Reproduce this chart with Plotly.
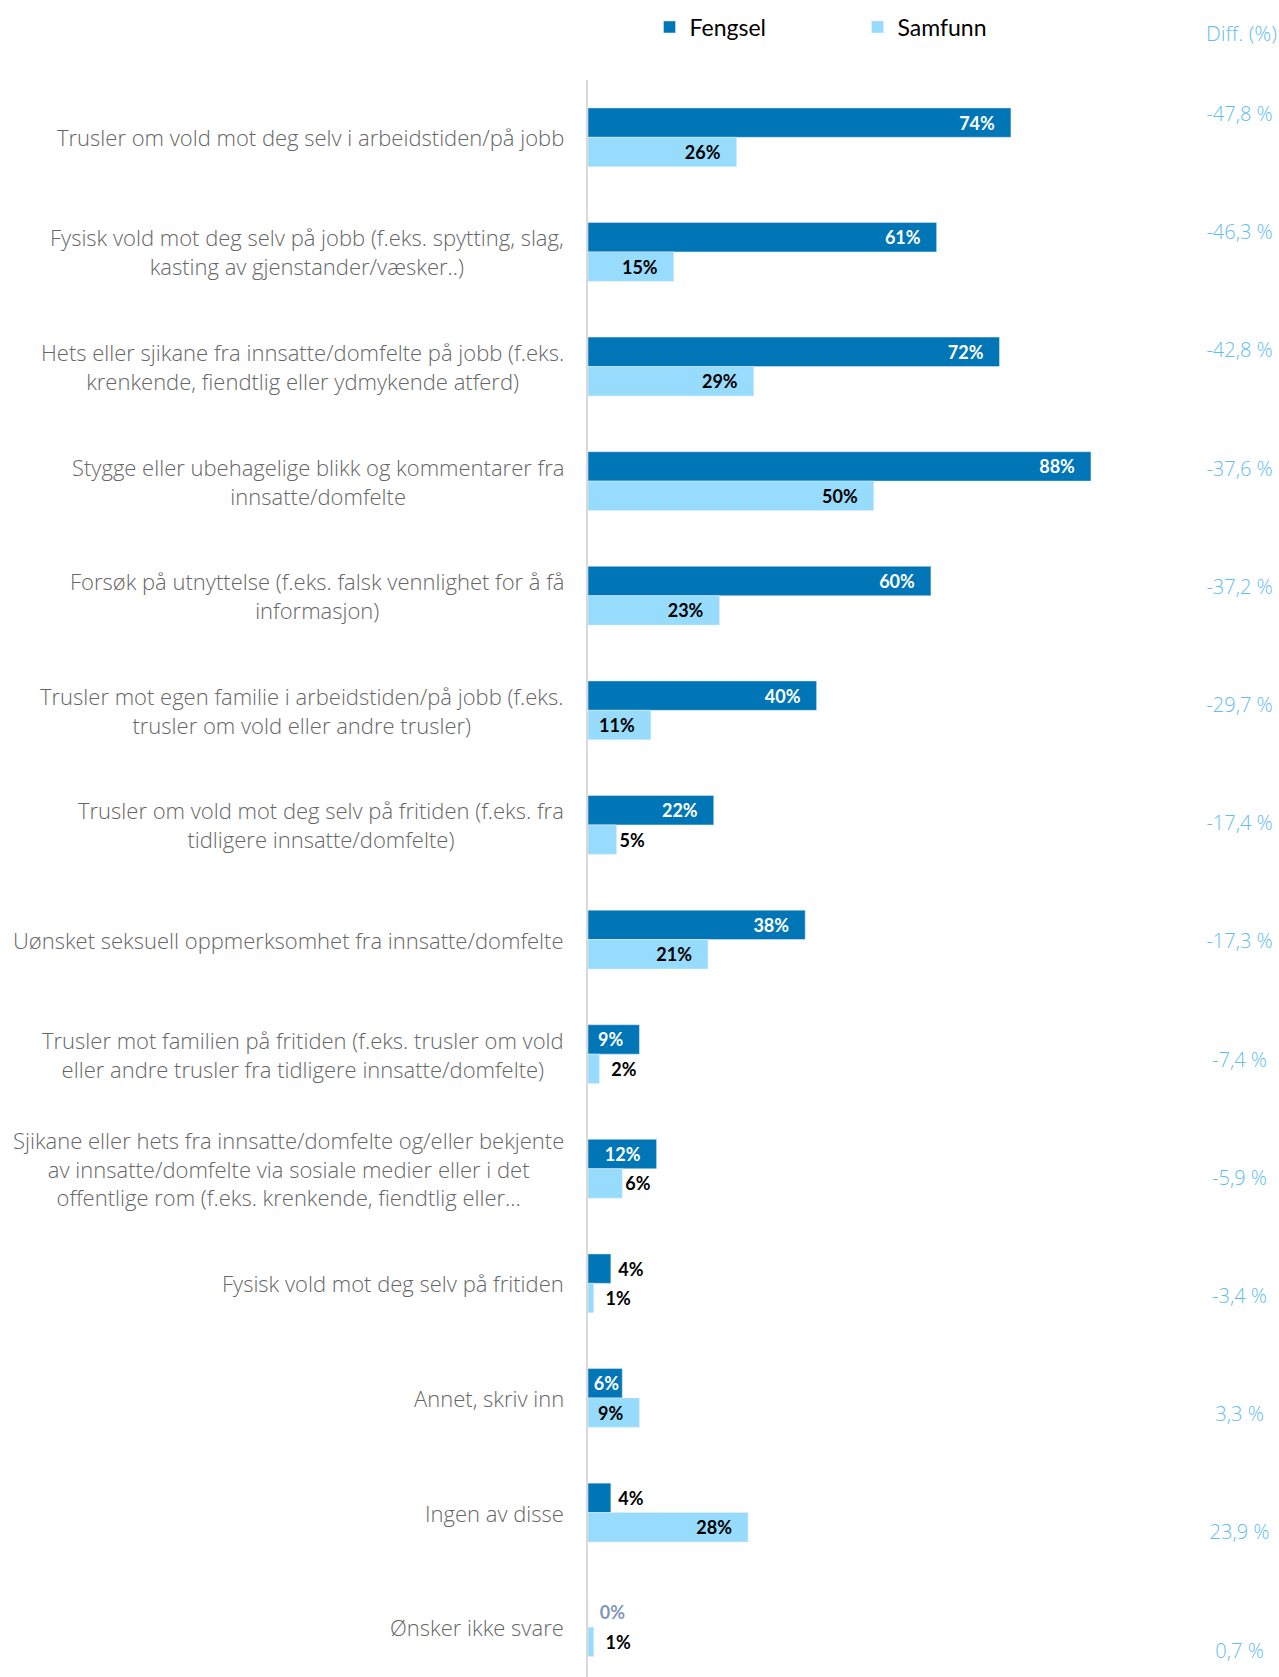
import plotly.graph_objects as go

categories = [
    "Trusler om vold mot deg selv i arbeidstiden/på jobb",
    "Fysisk vold mot deg selv på jobb (f.eks. spytting, slag,<br>kasting av gjenstander/væsker..)",
    "Hets eller sjikane fra innsatte/domfelte på jobb (f.eks.<br>krenkende, fiendtlig eller ydmykende atferd)",
    "Stygge eller ubehagelige blikk og kommentarer fra<br>innsatte/domfelte",
    "Forsøk på utnyttelse (f.eks. falsk vennlighet for å få<br>informasjon)",
    "Trusler mot egen familie i arbeidstiden/på jobb (f.eks.<br>trusler om vold eller andre trusler)",
    "Trusler om vold mot deg selv på fritiden (f.eks. fra<br>tidligere innsatte/domfelte)",
    "Uønsket seksuell oppmerksomhet fra innsatte/domfelte",
    "Trusler mot familien på fritiden (f.eks. trusler om vold<br>eller andre trusler fra tidligere innsatte/domfelte)",
    "Sjikane eller hets fra innsatte/domfelte og/eller bekjente<br>av innsatte/domfelte via sosiale medier eller i det<br>offentlige rom (f.eks. krenkende, fiendtlig eller…",
    "Fysisk vold mot deg selv på fritiden",
    "Annet, skriv inn",
    "Ingen av disse",
    "Ønsker ikke svare",
]
fengsel = [74, 61, 72, 88, 60, 40, 22, 38, 9, 12, 4, 6, 4, 0]
samfunn = [26, 15, 29, 50, 23, 11, 5, 21, 2, 6, 1, 9, 28, 1]
diff = [-47.8, -46.3, -42.8, -37.6, -37.2, -29.7, -17.4, -17.3, -7.4, -5.9, -3.4, 3.3, 23.9, 0.7]

C_F = "#0076b6"
C_S = "#97dbfd"
C_DIFF = "#5fbdf0"
LABEL_FONT = "Open Sans"
NUM_FONT = "Lato"

idx = list(range(len(categories)))
NB = "\u00a0"


def label_props(vals, threshold, inside_color):
    texts, pos, cols = [], [], []
    for v in vals:
        if v >= threshold:
            pad = NB * 3 if v >= 9 else ""
            texts.append(f"{v}%{pad}")
            pos.append("inside")
            cols.append(inside_color)
        else:
            lead = NB * 2 if v <= 2 else (NB if v == 4 else "")
            texts.append(f"{lead}{v}%")
            pos.append("outside")
            cols.append("#7f97bd" if v == 0 else "#000000")
    return texts, pos, cols


tf, pf, cf = label_props(fengsel, 6, "#ffffff")
ts, ps, cs = label_props(samfunn, 7, "#000000")

fig = go.Figure()
fig.add_trace(go.Bar(
    name="Fengsel", y=idx, x=fengsel, orientation="h", marker_color=C_F,
    text=tf, textposition=pf, insidetextanchor="end", constraintext="none",
    textfont=dict(family=NUM_FONT, size=18, color=cf, weight="bold"),
    cliponaxis=False,
))
fig.add_trace(go.Bar(
    name="Samfunn", y=idx, x=samfunn, orientation="h", marker_color=C_S,
    text=ts, textposition=ps, insidetextanchor="end", constraintext="none",
    textfont=dict(family=NUM_FONT, size=18, color=cs, weight="bold"),
    cliponaxis=False,
))

DIFF_X = 114.0
fig.add_trace(go.Scatter(
    x=[DIFF_X] * len(diff), y=idx, yaxis="y2", mode="text",
    text=[f"{d:.1f} %".replace(".", ",") for d in diff],
    textposition="middle center",
    textfont=dict(family=LABEL_FONT, size=20, color=C_DIFF, weight=300),
    showlegend=False, hoverinfo="skip", cliponaxis=False,
))

for i, c in enumerate(categories):
    fig.add_annotation(
        x=0, xref="paper", xanchor="right", xshift=-22,
        y=i, yref="y", yanchor="middle",
        text=c, showarrow=False, align="center",
        font=dict(family=LABEL_FONT, size=22, color="#666666", weight=300),
    )

fig.add_annotation(
    x=1, xref="paper", xanchor="right", y=1.0294, yref="paper", yanchor="middle",
    text="Diff. (%)", showarrow=False,
    font=dict(family=LABEL_FONT, size=21, color=C_DIFF, weight=300),
)

fig.update_layout(
    width=1279, height=1677,
    margin=dict(l=588, r=0, t=80, b=0),
    paper_bgcolor="white", plot_bgcolor="white",
    barmode="group", bargap=0.487, bargroupgap=0,
    xaxis=dict(range=[0, 120.9], visible=False, fixedrange=True),
    yaxis=dict(range=[13.435, -0.5], showticklabels=False, showgrid=False,
               zeroline=False, showline=True, linecolor="#d9d9d9", linewidth=2,
               ticks=""),
    yaxis2=dict(range=[13.207, -0.304], overlaying="y", visible=False),
    legend=dict(orientation="h", x=0.089, xanchor="left", y=1.0332, yanchor="middle",
                entrywidth=163, entrywidthmode="pixels",
                font=dict(family=NUM_FONT, size=23, color="#000000"),
                itemclick=False, traceorder="normal"),
    showlegend=True,
)

fig.write_html("out.html")
